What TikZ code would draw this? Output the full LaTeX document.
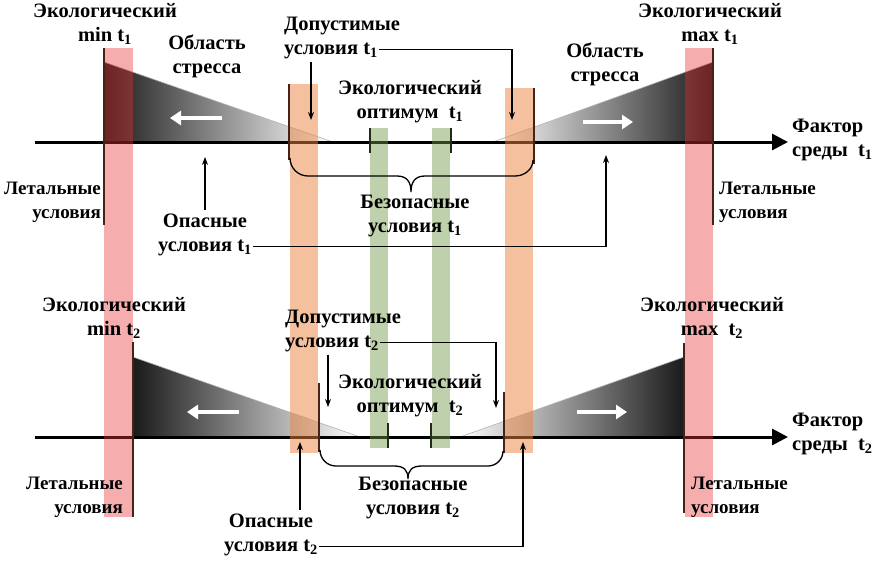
\documentclass[tikz,border=0pt]{standalone}
\usepackage{fontspec}
\setmainfont{Liberation Serif}
\usetikzlibrary{arrows.meta,positioning}
\definecolor{lethalred}{RGB}{230,50,50}
\definecolor{tolorange}{RGB}{235,130,60}
\definecolor{optgreen}{RGB}{110,150,70}
\definecolor{barbrown}{RGB}{70,35,25}
\definecolor{tickgreen}{RGB}{30,45,20}
\tikzset{
  lbl/.style={font=\bfseries\fontsize{20.5}{24}\selectfont,align=center,inner sep=1pt},
  lblline/.style={lbl,text height=15pt,text depth=5pt,inner ysep=2pt},
  lethlbl/.style={lbl,font=\bfseries\fontsize{19}{24}\selectfont},
  axis/.style={line width=3pt,-{Triangle[length=16pt,width=16pt]}},
  conn/.style={line width=1.2pt,-{Stealth[length=8pt,width=6pt]}},
  wharrow/.style={white,line width=4.5pt,-{Triangle[length=11pt,width=14pt]}},
  stress/.style={draw=gray!60,line width=.6pt},
  lethal/.style={barbrown,line width=2.6pt},
  tolline/.style={barbrown,line width=2.6pt},
  opttick/.style={tickgreen,line width=2.6pt},
  brace/.style={line width=1.3pt}
}
\begin{document}
\begin{tikzpicture}[x=1pt,y=-1pt]
\useasboundingbox (0,0) rectangle (886,560);
% stress areas
\shade[stress,left color=black!90,middle color=black!70,right color=white] (104,62) -- (104,142) -- (333,142) -- cycle;
\shade[stress,left color=white,middle color=black!70,right color=black!90] (493,142) -- (713,142) -- (713,62) -- cycle;
\shade[stress,left color=black!90,middle color=black!70,right color=white] (133,357) -- (133,437) -- (360,437) -- cycle;
\shade[stress,left color=white,middle color=black!70,right color=black!90] (460,437) -- (684,437) -- (684,357) -- cycle;
\draw[wharrow] (222,118) -- (170,118);
\draw[wharrow] (583,122) -- (633,122);
\draw[wharrow] (239,412) -- (187,412);
\draw[wharrow] (577,412) -- (627,412);
% axes
\coordinate (axA0) at (35,142); \coordinate (axA1) at (788,142);
\coordinate (axB0) at (35,437); \coordinate (axB1) at (788,437);
\draw[axis] (axA0) -- (axA1);
\draw[axis] (axB0) -- (axB1);
% bands
\fill[lethalred,opacity=.4] (104,48) rectangle (133,517);
\fill[lethalred,opacity=.4] (685,48) rectangle (713,517);
\fill[tolorange,opacity=.5] (290,84) rectangle (318,453);
\fill[tolorange,opacity=.5] (505,88) rectangle (533,453);
\fill[optgreen,opacity=.45] (370,128) rectangle (388,448);
\fill[optgreen,opacity=.45] (432,128) rectangle (450,448);
% limits t1
\draw[lethal] (104,48) -- (104,225);
\draw[lethal] (713,48) -- (713,225);
\draw[tolline] (289,84) -- (289,160);
\draw[tolline] (534,88) -- (534,164);
\draw[opttick] (370,128) -- (370,153);
\draw[opttick] (451,128) -- (451,153);
\draw[brace] (290,158) to[out=-90,in=180] (308,176) -- (397,176) .. controls (407,176) and (411,182) .. (411,192) .. controls (411,182) and (415,176) .. (425,176) -- (515,176) to[out=0,in=-90] (533,160);
% limits t2
\draw[lethal] (133,342) -- (133,517);
\draw[lethal] (684,343) -- (684,513);
\draw[tolline] (319,383) -- (319,452);
\draw[tolline] (504,392) -- (504,453);
\draw[opttick] (388,423) -- (388,448);
\draw[opttick] (431,423) -- (431,448);
\draw[brace] (320,450) to[out=-90,in=180] (336,466) -- (394,466) .. controls (404,466) and (408,470) .. (408,479) .. controls (408,470) and (412,466) .. (422,466) -- (488,466) to[out=0,in=-90] (503,451);
% labels t1
\node[lbl] (minA) at (105,24) {Экологический\\min t\textsubscript{1}};
\node[lbl] (stressA) at (207,56) {Область\\стресса};
\node[lethlbl,align=right,anchor=east,inner xsep=0pt] (lethA) at (101,202) {Летальные\\условия};
\node[lblline] (opasA) at (205,222) {Опасные};
\node[lblline,below=0pt of opasA] (opasA2) {условия t\textsubscript{1}};
\node[lblline,anchor=west] (dopA) at (283,25) {Допустимые};
\node[lblline,below=0pt of dopA.south west,anchor=north west] (dopA2) {условия t\textsubscript{1}};
\node[lbl] (optA) at (410,102) {Экологический\\оптимум~~t\textsubscript{1}};
\node[lbl] (bezA) at (415,216) {Безопасные\\условия t\textsubscript{1}};
\node[lbl] (maxA) at (710,24) {Экологический\\max t\textsubscript{1}};
\node[lbl] (stressA2) at (605,64) {Область\\стресса};
\node[lbl,align=left,anchor=west] (factA) at (791,140) {Фактор\\среды~~t\textsubscript{1}};
\node[lethlbl,align=left,anchor=west] (lethA2) at (718,202) {Летальные\\условия};
% labels t2
\node[lbl] (minB) at (114,318) {Экологический\\min t\textsubscript{2}};
\node[lethlbl,align=right,anchor=east] (lethB) at (124,497) {Летальные\\условия};
\node[lblline] (opasB) at (271,522) {Опасные};
\node[lblline,below=0pt of opasB] (opasB2) {условия t\textsubscript{2}};
\node[lblline,anchor=west] (dopB) at (284,318) {Допустимые};
\node[lblline,below=0pt of dopB.south west,anchor=north west] (dopB2) {условия t\textsubscript{2}};
\node[lbl] (optB) at (410,396) {Экологический\\оптимум~~t\textsubscript{2}};
\node[lbl] (bezB) at (413,498) {Безопасные\\условия t\textsubscript{2}};
\node[lbl] (maxB) at (712,318) {Экологический\\max~~t\textsubscript{2}};
\node[lbl,align=left,anchor=west] (factB) at (791,434) {Фактор\\среды~~t\textsubscript{2}};
\node[lethlbl,align=left,anchor=west] (lethB2) at (690,497) {Летальные\\условия};
% pointers
\coordinate (opasAtip) at (205,157);
\coordinate (opasAtip2) at (606,155);
\coordinate (dopAtip) at (311,120);
\coordinate (dopAtip2) at (512,120);
\coordinate (opasBtip) at (300,442);
\coordinate (opasBtip2) at (523,442);
\coordinate (dopBtip) at (328,407);
\coordinate (dopBtip2) at (496,408);
\draw[conn] (opasA.north) -- (opasAtip);
\draw[conn] (opasA2.east) -| (opasAtip2);
\draw[conn] (dopA2.south -| dopAtip) -- (dopAtip);
\draw[conn] (dopA2.east) -| (dopAtip2);
\draw[conn] (opasB.north -| opasBtip) -- (opasBtip);
\draw[conn] (opasB2.east) -| (opasBtip2);
\draw[conn] (dopB2.south -| dopBtip) -- (dopBtip);
\draw[conn] (dopB2.east) -| (dopBtip2);
\end{tikzpicture}
\end{document}
